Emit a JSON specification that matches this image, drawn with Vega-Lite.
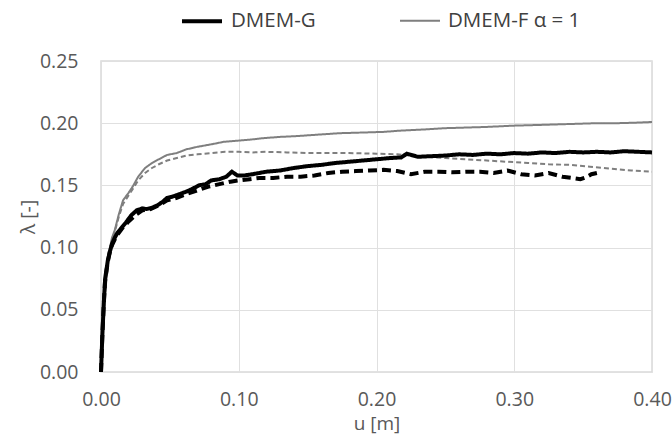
{
"$schema": "https://vega.github.io/schema/vega-lite/v6.json",
"width": 551, "height": 311,
"autosize": "none",
"padding": {"left": 101, "top": 61, "right": 20, "bottom": 65},
"config": {"font": "Open Sans", "view": {"stroke": "#d9d9d9", "strokeWidth": 1.5}},
"data": {"values": [
{"s":"DMEM-F dashed","u":0,"l":0},{"s":"DMEM-F dashed","u":0.001,"l":0.024},{"s":"DMEM-F dashed","u":0.002,"l":0.046},{"s":"DMEM-F dashed","u":0.003,"l":0.064},{"s":"DMEM-F dashed","u":0.005,"l":0.085},{"s":"DMEM-F dashed","u":0.0065,"l":0.098},{"s":"DMEM-F dashed","u":0.008,"l":0.106},{"s":"DMEM-F dashed","u":0.01,"l":0.113},{"s":"DMEM-F dashed","u":0.013,"l":0.125},{"s":"DMEM-F dashed","u":0.016,"l":0.135},{"s":"DMEM-F dashed","u":0.02,"l":0.142},{"s":"DMEM-F dashed","u":0.023,"l":0.147},{"s":"DMEM-F dashed","u":0.027,"l":0.154},{"s":"DMEM-F dashed","u":0.032,"l":0.16},{"s":"DMEM-F dashed","u":0.037,"l":0.164},{"s":"DMEM-F dashed","u":0.042,"l":0.167},{"s":"DMEM-F dashed","u":0.048,"l":0.17},{"s":"DMEM-F dashed","u":0.055,"l":0.172},{"s":"DMEM-F dashed","u":0.062,"l":0.174},{"s":"DMEM-F dashed","u":0.07,"l":0.175},{"s":"DMEM-F dashed","u":0.08,"l":0.176},{"s":"DMEM-F dashed","u":0.09,"l":0.177},{"s":"DMEM-F dashed","u":0.1,"l":0.177},{"s":"DMEM-F dashed","u":0.11,"l":0.1765},{"s":"DMEM-F dashed","u":0.12,"l":0.177},{"s":"DMEM-F dashed","u":0.135,"l":0.1765},{"s":"DMEM-F dashed","u":0.15,"l":0.176},{"s":"DMEM-F dashed","u":0.165,"l":0.176},{"s":"DMEM-F dashed","u":0.18,"l":0.176},{"s":"DMEM-F dashed","u":0.2,"l":0.1755},{"s":"DMEM-F dashed","u":0.215,"l":0.175},{"s":"DMEM-F dashed","u":0.23,"l":0.1735},{"s":"DMEM-F dashed","u":0.25,"l":0.172},{"s":"DMEM-F dashed","u":0.265,"l":0.171},{"s":"DMEM-F dashed","u":0.28,"l":0.17},{"s":"DMEM-F dashed","u":0.295,"l":0.169},{"s":"DMEM-F dashed","u":0.31,"l":0.168},{"s":"DMEM-F dashed","u":0.325,"l":0.167},{"s":"DMEM-F dashed","u":0.34,"l":0.1665},{"s":"DMEM-F dashed","u":0.355,"l":0.165},{"s":"DMEM-F dashed","u":0.37,"l":0.1635},{"s":"DMEM-F dashed","u":0.385,"l":0.162},{"s":"DMEM-F dashed","u":0.4,"l":0.161},
{"s":"DMEM-F α = 1","u":0,"l":0},{"s":"DMEM-F α = 1","u":0.001,"l":0.025},{"s":"DMEM-F α = 1","u":0.002,"l":0.048},{"s":"DMEM-F α = 1","u":0.003,"l":0.066},{"s":"DMEM-F α = 1","u":0.005,"l":0.087},{"s":"DMEM-F α = 1","u":0.0065,"l":0.1},{"s":"DMEM-F α = 1","u":0.008,"l":0.108},{"s":"DMEM-F α = 1","u":0.01,"l":0.114},{"s":"DMEM-F α = 1","u":0.013,"l":0.127},{"s":"DMEM-F α = 1","u":0.016,"l":0.138},{"s":"DMEM-F α = 1","u":0.02,"l":0.144},{"s":"DMEM-F α = 1","u":0.023,"l":0.149},{"s":"DMEM-F α = 1","u":0.027,"l":0.157},{"s":"DMEM-F α = 1","u":0.032,"l":0.164},{"s":"DMEM-F α = 1","u":0.037,"l":0.168},{"s":"DMEM-F α = 1","u":0.042,"l":0.171},{"s":"DMEM-F α = 1","u":0.048,"l":0.1745},{"s":"DMEM-F α = 1","u":0.055,"l":0.176},{"s":"DMEM-F α = 1","u":0.062,"l":0.179},{"s":"DMEM-F α = 1","u":0.07,"l":0.181},{"s":"DMEM-F α = 1","u":0.08,"l":0.183},{"s":"DMEM-F α = 1","u":0.089,"l":0.185},{"s":"DMEM-F α = 1","u":0.1,"l":0.186},{"s":"DMEM-F α = 1","u":0.11,"l":0.187},{"s":"DMEM-F α = 1","u":0.118,"l":0.188},{"s":"DMEM-F α = 1","u":0.13,"l":0.189},{"s":"DMEM-F α = 1","u":0.14,"l":0.1895},{"s":"DMEM-F α = 1","u":0.147,"l":0.19},{"s":"DMEM-F α = 1","u":0.16,"l":0.191},{"s":"DMEM-F α = 1","u":0.174,"l":0.192},{"s":"DMEM-F α = 1","u":0.19,"l":0.1925},{"s":"DMEM-F α = 1","u":0.205,"l":0.193},{"s":"DMEM-F α = 1","u":0.217,"l":0.194},{"s":"DMEM-F α = 1","u":0.235,"l":0.195},{"s":"DMEM-F α = 1","u":0.25,"l":0.196},{"s":"DMEM-F α = 1","u":0.265,"l":0.1965},{"s":"DMEM-F α = 1","u":0.28,"l":0.197},{"s":"DMEM-F α = 1","u":0.299,"l":0.198},{"s":"DMEM-F α = 1","u":0.315,"l":0.1985},{"s":"DMEM-F α = 1","u":0.33,"l":0.199},{"s":"DMEM-F α = 1","u":0.345,"l":0.1995},{"s":"DMEM-F α = 1","u":0.36,"l":0.2},{"s":"DMEM-F α = 1","u":0.375,"l":0.2},{"s":"DMEM-F α = 1","u":0.39,"l":0.2005},{"s":"DMEM-F α = 1","u":0.4,"l":0.201},
{"s":"DMEM-G dashed","u":0,"l":0},{"s":"DMEM-G dashed","u":0.001,"l":0.03},{"s":"DMEM-G dashed","u":0.002,"l":0.054},{"s":"DMEM-G dashed","u":0.003,"l":0.074},{"s":"DMEM-G dashed","u":0.005,"l":0.089},{"s":"DMEM-G dashed","u":0.0065,"l":0.097},{"s":"DMEM-G dashed","u":0.008,"l":0.102},{"s":"DMEM-G dashed","u":0.011,"l":0.109},{"s":"DMEM-G dashed","u":0.015,"l":0.115},{"s":"DMEM-G dashed","u":0.02,"l":0.121},{"s":"DMEM-G dashed","u":0.026,"l":0.127},{"s":"DMEM-G dashed","u":0.03,"l":0.13},{"s":"DMEM-G dashed","u":0.036,"l":0.131},{"s":"DMEM-G dashed","u":0.042,"l":0.134},{"s":"DMEM-G dashed","u":0.048,"l":0.138},{"s":"DMEM-G dashed","u":0.055,"l":0.14},{"s":"DMEM-G dashed","u":0.062,"l":0.143},{"s":"DMEM-G dashed","u":0.07,"l":0.146},{"s":"DMEM-G dashed","u":0.078,"l":0.149},{"s":"DMEM-G dashed","u":0.086,"l":0.151},{"s":"DMEM-G dashed","u":0.094,"l":0.153},{"s":"DMEM-G dashed","u":0.1,"l":0.154},{"s":"DMEM-G dashed","u":0.108,"l":0.155},{"s":"DMEM-G dashed","u":0.115,"l":0.156},{"s":"DMEM-G dashed","u":0.125,"l":0.156},{"s":"DMEM-G dashed","u":0.135,"l":0.157},{"s":"DMEM-G dashed","u":0.145,"l":0.157},{"s":"DMEM-G dashed","u":0.155,"l":0.158},{"s":"DMEM-G dashed","u":0.165,"l":0.16},{"s":"DMEM-G dashed","u":0.175,"l":0.161},{"s":"DMEM-G dashed","u":0.185,"l":0.1615},{"s":"DMEM-G dashed","u":0.195,"l":0.162},{"s":"DMEM-G dashed","u":0.205,"l":0.1625},{"s":"DMEM-G dashed","u":0.215,"l":0.1615},{"s":"DMEM-G dashed","u":0.225,"l":0.159},{"s":"DMEM-G dashed","u":0.235,"l":0.161},{"s":"DMEM-G dashed","u":0.245,"l":0.161},{"s":"DMEM-G dashed","u":0.255,"l":0.1605},{"s":"DMEM-G dashed","u":0.265,"l":0.161},{"s":"DMEM-G dashed","u":0.275,"l":0.161},{"s":"DMEM-G dashed","u":0.285,"l":0.16},{"s":"DMEM-G dashed","u":0.295,"l":0.162},{"s":"DMEM-G dashed","u":0.305,"l":0.159},{"s":"DMEM-G dashed","u":0.315,"l":0.158},{"s":"DMEM-G dashed","u":0.325,"l":0.16},{"s":"DMEM-G dashed","u":0.335,"l":0.157},{"s":"DMEM-G dashed","u":0.342,"l":0.156},{"s":"DMEM-G dashed","u":0.348,"l":0.155},{"s":"DMEM-G dashed","u":0.352,"l":0.1565},{"s":"DMEM-G dashed","u":0.356,"l":0.159},{"s":"DMEM-G dashed","u":0.36,"l":0.16},
{"s":"DMEM-G","u":0,"l":0},{"s":"DMEM-G","u":0.001,"l":0.03},{"s":"DMEM-G","u":0.002,"l":0.055},{"s":"DMEM-G","u":0.003,"l":0.075},{"s":"DMEM-G","u":0.005,"l":0.09},{"s":"DMEM-G","u":0.0065,"l":0.097},{"s":"DMEM-G","u":0.008,"l":0.103},{"s":"DMEM-G","u":0.01,"l":0.108},{"s":"DMEM-G","u":0.012,"l":0.112},{"s":"DMEM-G","u":0.015,"l":0.116},{"s":"DMEM-G","u":0.018,"l":0.12},{"s":"DMEM-G","u":0.022,"l":0.126},{"s":"DMEM-G","u":0.026,"l":0.13},{"s":"DMEM-G","u":0.03,"l":0.1315},{"s":"DMEM-G","u":0.033,"l":0.131},{"s":"DMEM-G","u":0.037,"l":0.132},{"s":"DMEM-G","u":0.041,"l":0.134},{"s":"DMEM-G","u":0.045,"l":0.137},{"s":"DMEM-G","u":0.048,"l":0.14},{"s":"DMEM-G","u":0.052,"l":0.141},{"s":"DMEM-G","u":0.057,"l":0.143},{"s":"DMEM-G","u":0.062,"l":0.145},{"s":"DMEM-G","u":0.066,"l":0.147},{"s":"DMEM-G","u":0.071,"l":0.15},{"s":"DMEM-G","u":0.076,"l":0.151},{"s":"DMEM-G","u":0.08,"l":0.154},{"s":"DMEM-G","u":0.086,"l":0.155},{"s":"DMEM-G","u":0.091,"l":0.157},{"s":"DMEM-G","u":0.093,"l":0.159},{"s":"DMEM-G","u":0.095,"l":0.161},{"s":"DMEM-G","u":0.099,"l":0.158},{"s":"DMEM-G","u":0.104,"l":0.158},{"s":"DMEM-G","u":0.11,"l":0.159},{"s":"DMEM-G","u":0.12,"l":0.161},{"s":"DMEM-G","u":0.13,"l":0.162},{"s":"DMEM-G","u":0.14,"l":0.164},{"s":"DMEM-G","u":0.15,"l":0.1655},{"s":"DMEM-G","u":0.16,"l":0.1665},{"s":"DMEM-G","u":0.17,"l":0.168},{"s":"DMEM-G","u":0.18,"l":0.169},{"s":"DMEM-G","u":0.19,"l":0.17},{"s":"DMEM-G","u":0.2,"l":0.171},{"s":"DMEM-G","u":0.21,"l":0.172},{"s":"DMEM-G","u":0.218,"l":0.1725},{"s":"DMEM-G","u":0.222,"l":0.1755},{"s":"DMEM-G","u":0.23,"l":0.173},{"s":"DMEM-G","u":0.24,"l":0.1735},{"s":"DMEM-G","u":0.25,"l":0.174},{"s":"DMEM-G","u":0.26,"l":0.175},{"s":"DMEM-G","u":0.27,"l":0.1745},{"s":"DMEM-G","u":0.28,"l":0.1755},{"s":"DMEM-G","u":0.29,"l":0.175},{"s":"DMEM-G","u":0.3,"l":0.176},{"s":"DMEM-G","u":0.31,"l":0.1755},{"s":"DMEM-G","u":0.32,"l":0.1765},{"s":"DMEM-G","u":0.33,"l":0.176},{"s":"DMEM-G","u":0.34,"l":0.177},{"s":"DMEM-G","u":0.35,"l":0.1765},{"s":"DMEM-G","u":0.36,"l":0.177},{"s":"DMEM-G","u":0.37,"l":0.1765},{"s":"DMEM-G","u":0.38,"l":0.1775},{"s":"DMEM-G","u":0.39,"l":0.177},{"s":"DMEM-G","u":0.4,"l":0.1765}
]},
"mark": {"type": "line"},
"encoding": {
 "x": {"field": "u", "type": "quantitative", "scale": {"domain": [0, 0.4], "nice": false, "zero": false},
   "axis": {"title": "u [m]", "values": [0, 0.1, 0.2, 0.3, 0.4], "format": ".2f", "grid": true, "gridColor": "#e0e0e0", "domain": false, "ticks": false, "labelFlush": false,
     "labelFontSize": 19.5, "labelColor": "#595959", "labelPadding": 18, "titleFontSize": 19, "titleFontWeight": "normal", "titleColor": "#595959", "titlePadding": 6}},
 "y": {"field": "l", "type": "quantitative", "scale": {"domain": [0, 0.25], "nice": false},
   "axis": {"title": "λ [-]", "values": [0, 0.05, 0.1, 0.15, 0.2, 0.25], "format": ".2f", "grid": true, "gridColor": "#e0e0e0", "domain": false, "ticks": false, "labelFlush": false,
     "labelFontSize": 19.5, "labelColor": "#595959", "labelPadding": 23, "titleFontSize": 19.5, "titleFontWeight": "normal", "titleColor": "#595959", "titlePadding": 1}},
 "order": {"field": "u", "type": "quantitative"},
 "color": {"field": "s", "type": "nominal",
   "scale": {"domain": ["DMEM-G", "DMEM-F α = 1", "DMEM-G dashed", "DMEM-F dashed"], "range": ["#000000", "#7f7f7f", "#000000", "#7f7f7f"]},
   "legend": {"values": ["DMEM-G", "DMEM-F α = 1"], "title": null, "orient": "none", "legendX": 79, "legendY": -62, "direction": "horizontal", "symbolType": "stroke", "symbolSize": 1600,
     "labelFontSize": 20.5, "labelColor": "#404040", "labelOffset": 7, "columnPadding": 80, "padding": 0}},
 "strokeWidth": {"field": "s", "type": "nominal",
   "scale": {"type": "ordinal", "domain": ["DMEM-G", "DMEM-F α = 1", "DMEM-G dashed", "DMEM-F dashed"], "range": [4, 2, 4, 2]},
   "legend": {"values": ["DMEM-G", "DMEM-F α = 1"], "title": null, "orient": "none", "legendX": 79, "legendY": -62, "direction": "horizontal", "symbolType": "stroke", "symbolSize": 1600,
     "labelFontSize": 20.5, "labelColor": "#404040", "labelOffset": 7, "columnPadding": 80, "padding": 0}},
 "strokeDash": {"field": "s", "type": "nominal",
   "scale": {"domain": ["DMEM-G", "DMEM-F α = 1", "DMEM-G dashed", "DMEM-F dashed"], "range": [[1, 0], [1, 0], [9, 5], [5, 3]]},
   "legend": {"values": ["DMEM-G", "DMEM-F α = 1"], "title": null, "orient": "none", "legendX": 79, "legendY": -62, "direction": "horizontal", "symbolType": "stroke", "symbolSize": 1600,
     "labelFontSize": 20.5, "labelColor": "#404040", "labelOffset": 7, "columnPadding": 80, "padding": 0}}
}
}
